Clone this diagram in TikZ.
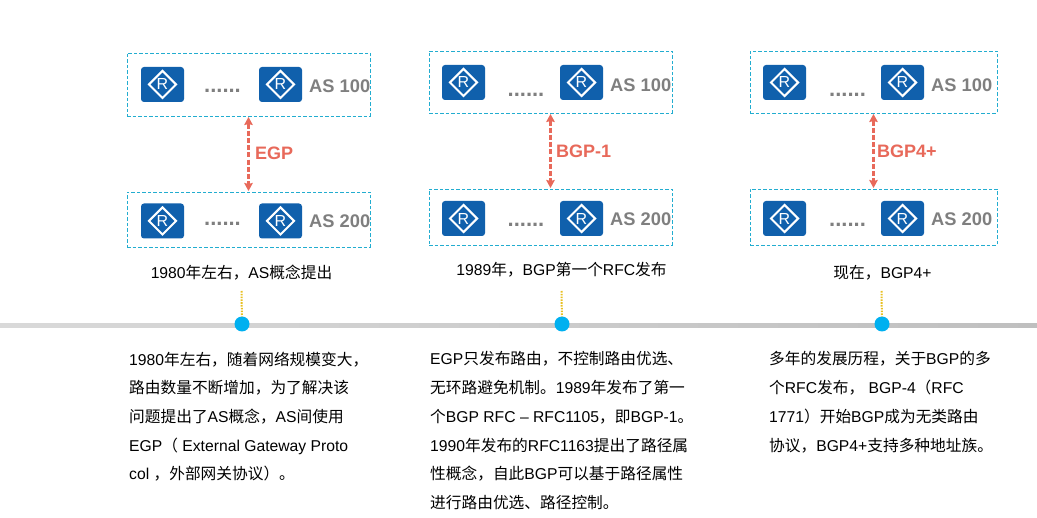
\documentclass[tikz,border=0pt]{standalone}
\usepackage{fontspec}
\setmainfont{Liberation Sans}
\newfontfamily\cjkfont{Noto Sans CJK SC}
\newcommand{\zh}[1]{{\cjkfont #1}}
\usetikzlibrary{shapes.geometric,arrows.meta}
\definecolor{boxblue}{HTML}{22ADD0}
\definecolor{routerblue}{HTML}{1060AC}
\definecolor{salmon}{HTML}{E8695A}
\definecolor{asgray}{HTML}{7F7F7F}
\definecolor{railleft}{HTML}{D9D9D9}
\definecolor{railright}{HTML}{BFBFBF}
\definecolor{dotblue}{HTML}{00B0F0}
\definecolor{stemyellow}{HTML}{E8C020}
\tikzset{
  asbox/.style={draw=boxblue,line width=0.9pt,dash pattern=on 3.5pt off 2pt,minimum width=#1,inner sep=0pt,outer sep=0pt},
  routerbox/.style={fill=routerblue,rounded corners=3pt,minimum width=43pt,minimum height=35pt,inner sep=0pt},
  routermark/.style={diamond,draw=white,line width=2pt,minimum width=28pt,minimum height=28pt,inner sep=0pt,text=white,font=\fontsize{16}{16}\selectfont,aspect=1},
  aslabel/.style={text=asgray,font=\fontsize{18.3}{20}\selectfont\bfseries,inner sep=0pt,anchor=west},
  dotsnode/.style={text=asgray,font=\fontsize{22}{24}\selectfont\bfseries,inner sep=0pt},
  proto/.style={text=salmon,font=\fontsize{18}{20}\selectfont\bfseries,inner sep=0pt,anchor=west},
  link/.style={draw=salmon,line width=2.2pt,dash pattern=on 5pt off 2.2pt,{Stealth[length=8pt,width=8.5pt,inset=1pt]}-{Stealth[length=8pt,width=8.5pt,inset=1pt]},shorten >=1pt,shorten <=1pt},
  caption/.style={font=\fontsize{15.7}{18}\selectfont,inner sep=0pt,text=black},
  body/.style={font=\fontsize{15.7}{28.7}\selectfont,inner sep=0pt,align=left,anchor=north west,text=black},
  stem/.style={draw=stemyellow,line width=2pt,dash pattern=on 1.6pt off 1.2pt},
  station/.style={circle,fill=dotblue,minimum size=15pt,inner sep=0pt},
}
\newcommand{\router}[3]{%
  \node[routerbox] (#1) at (#2,#3) {};
  \node[routermark] (#1m) at (#1) {R};
}
\begin{document}
\begin{tikzpicture}[x=1pt,y=-1pt]
\useasboundingbox[fill=white] (0,0) rectangle (1037,518);

% column 1
\node[asbox=243pt,minimum height=63pt] (a1) at (248.5,84.5) {};
\node[asbox=243pt,minimum height=55pt] (b1) at (248.5,219.5) {};
\router{a1r1}{162.5}{84.5}\router{a1r2}{280.5}{84.5}
\router{b1r1}{162.5}{221}\router{b1r2}{280.5}{221}
\node[dotsnode] (a1d) at (222.5,91) {......};
\node[dotsnode] (b1d) at (222.5,224) {......};
\node[aslabel] (a1t) at (309,86) {AS 100};
\node[aslabel] (b1t) at (309,221) {AS 200};
\draw[link] (a1.south) -- (b1.north);
\node[proto] (p1) at (255,153) {EGP};
\node[caption] (c1) at (241.5,273) {1980\zh{年左右，}AS\zh{概念提出}};

% column 2
\node[asbox=243pt,minimum height=62pt] (a2) at (550.5,82) {};
\node[asbox=243pt,minimum height=56pt] (b2) at (550.5,217) {};
\router{a2r1}{463.5}{82.5}\router{a2r2}{581.5}{82.5}
\router{b2r1}{463.5}{218.5}\router{b2r2}{581.5}{218.5}
\node[dotsnode] (a2d) at (526,95) {......};
\node[dotsnode] (b2d) at (526,225) {......};
\node[aslabel] (a2t) at (610,85) {AS 100};
\node[aslabel] (b2t) at (610,219) {AS 200};
\draw[link] (a2.south) -- (b2.north);
\node[proto] (p2) at (556,151) {BGP-1};
\node[caption] (c2) at (561.5,270) {1989\zh{年，}BGP\zh{第一个}RFC\zh{发布}};

% column 3
\node[asbox=247pt,minimum height=62pt] (a3) at (873.5,82) {};
\node[asbox=247pt,minimum height=56pt] (b3) at (873.5,217) {};
\router{a3r1}{784.5}{82.5}\router{a3r2}{902.5}{82.5}
\router{b3r1}{784.5}{218.5}\router{b3r2}{902.5}{218.5}
\node[dotsnode] (a3d) at (847.5,95) {......};
\node[dotsnode] (b3d) at (847.5,225) {......};
\node[aslabel] (a3t) at (931,85) {AS 100};
\node[aslabel] (b3t) at (931,219) {AS 200};
\draw[link] (a3.south) -- (b3.north);
\node[proto] (p3) at (877,151) {BGP4+};
\node[caption] (c3) at (882.5,273) {\zh{现在，}BGP4+};

% timeline
\shade[left color=railleft,right color=railright] (0,324) rectangle (1037,328);
\node[station] (s1) at (242,324) {};
\node[station] (s2) at (562,324) {};
\node[station] (s3) at (882,324) {};
\coordinate (t1) at (241.5,291);
\coordinate (t2) at (561.5,291);
\coordinate (t3) at (881.5,291);
\draw[stem] (t1) -- (s1);
\draw[stem] (t2) -- (s2);
\draw[stem] (t3) -- (s3);

% descriptions
\node[body] (d1) at (129,351.5) {1980\zh{年左右，随着网络规模变大，}\\
\zh{路由数量不断增加，为了解决该}\\
\zh{问题提出了}AS\zh{概念，}AS\zh{间使用}\\
EGP\zh{（} External Gateway Proto\\
col \zh{，外部网关协议）。}};
\node[body] (d2) at (430,351.5) {EGP\zh{只发布路由，不控制路由优选、}\\
\zh{无环路避免机制。}1989\zh{年发布了第一}\\
\zh{个}BGP RFC -- RFC1105\zh{，即}BGP-1\zh{。}\\
1990\zh{年发布的}RFC1163\zh{提出了路径属}\\
\zh{性概念，自此}BGP\zh{可以基于路径属性}\\
\zh{进行路由优选、路径控制。}};
\node[body] (d3) at (769,351.5) {\zh{多年的发展历程，关于}BGP\zh{的多}\\
\zh{个}RFC\zh{发布，} BGP-4\zh{（}RFC\\
1771\zh{）开始}BGP\zh{成为无类路由}\\
\zh{协议，}BGP4+\zh{支持多种地址族。}};
\end{tikzpicture}
\end{document}
